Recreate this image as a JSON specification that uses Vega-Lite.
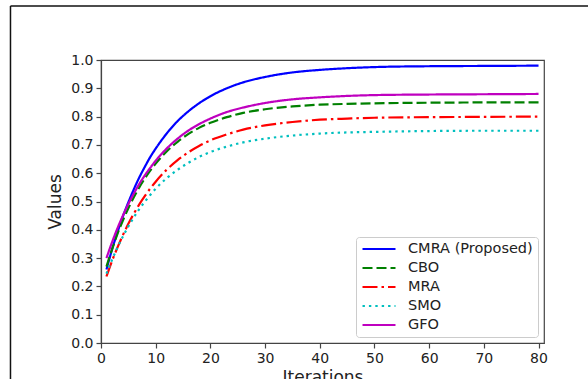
{
  "$schema": "https://vega.github.io/schema/vega-lite/v6.json",
  "width": 443,
  "height": 283,
  "autosize": {"type": "none"},
  "padding": {"left": 101, "top": 60, "right": 44, "bottom": 36},
  "background": "white",
  "config": {
    "font": "DejaVu Sans",
    "view": {"stroke": "#444", "strokeWidth": 1.2},
    "axis": {
      "grid": false,
      "domainColor": "#444",
      "domainWidth": 1.2,
      "tickColor": "#444",
      "tickSize": 5,
      "tickWidth": 1.2,
      "labelFontSize": 14,
      "labelColor": "#222",
      "labelPadding": 3,
      "labelOverlap": false,
      "titleFontSize": 17,
      "titleFontWeight": "normal",
      "titleColor": "#222"
    },
    "legend": {
      "title": null,
      "symbolType": "stroke",
      "symbolSize": 1089,
      "symbolStrokeWidth": 2.2,
      "clipHeight": 14,
      "labelFontSize": 14.5,
      "labelColor": "#222",
      "labelOffset": 11,
      "strokeColor": "#cccccc",
      "fillColor": "white",
      "cornerRadius": 3,
      "padding": 5,
      "rowPadding": 4
    }
  },
  "datasets": {
    "curves": [
      {"it": 1, "method": "CMRA (Proposed)", "v": 0.260}, {"it": 2, "method": "CMRA (Proposed)", "v": 0.329}, {"it": 3, "method": "CMRA (Proposed)", "v": 0.391}, {"it": 4, "method": "CMRA (Proposed)", "v": 0.447}, {"it": 5, "method": "CMRA (Proposed)", "v": 0.497},
      {"it": 6, "method": "CMRA (Proposed)", "v": 0.543}, {"it": 7, "method": "CMRA (Proposed)", "v": 0.585}, {"it": 8, "method": "CMRA (Proposed)", "v": 0.622}, {"it": 9, "method": "CMRA (Proposed)", "v": 0.657}, {"it": 10, "method": "CMRA (Proposed)", "v": 0.687},
      {"it": 12, "method": "CMRA (Proposed)", "v": 0.740}, {"it": 14, "method": "CMRA (Proposed)", "v": 0.784}, {"it": 16, "method": "CMRA (Proposed)", "v": 0.819}, {"it": 18, "method": "CMRA (Proposed)", "v": 0.848}, {"it": 20, "method": "CMRA (Proposed)", "v": 0.872},
      {"it": 23, "method": "CMRA (Proposed)", "v": 0.900}, {"it": 26, "method": "CMRA (Proposed)", "v": 0.921}, {"it": 30, "method": "CMRA (Proposed)", "v": 0.940}, {"it": 35, "method": "CMRA (Proposed)", "v": 0.956}, {"it": 40, "method": "CMRA (Proposed)", "v": 0.965},
      {"it": 45, "method": "CMRA (Proposed)", "v": 0.971}, {"it": 50, "method": "CMRA (Proposed)", "v": 0.975}, {"it": 60, "method": "CMRA (Proposed)", "v": 0.978}, {"it": 70, "method": "CMRA (Proposed)", "v": 0.979}, {"it": 80, "method": "CMRA (Proposed)", "v": 0.980},

      {"it": 1, "method": "CBO", "v": 0.270}, {"it": 2, "method": "CBO", "v": 0.330}, {"it": 3, "method": "CBO", "v": 0.385}, {"it": 4, "method": "CBO", "v": 0.433}, {"it": 5, "method": "CBO", "v": 0.476},
      {"it": 6, "method": "CBO", "v": 0.515}, {"it": 7, "method": "CBO", "v": 0.550}, {"it": 8, "method": "CBO", "v": 0.581}, {"it": 9, "method": "CBO", "v": 0.609}, {"it": 10, "method": "CBO", "v": 0.634},
      {"it": 12, "method": "CBO", "v": 0.677}, {"it": 14, "method": "CBO", "v": 0.711}, {"it": 16, "method": "CBO", "v": 0.739}, {"it": 18, "method": "CBO", "v": 0.761}, {"it": 20, "method": "CBO", "v": 0.778},
      {"it": 23, "method": "CBO", "v": 0.798}, {"it": 26, "method": "CBO", "v": 0.813}, {"it": 30, "method": "CBO", "v": 0.826}, {"it": 35, "method": "CBO", "v": 0.836}, {"it": 40, "method": "CBO", "v": 0.842},
      {"it": 45, "method": "CBO", "v": 0.845}, {"it": 50, "method": "CBO", "v": 0.847}, {"it": 60, "method": "CBO", "v": 0.849}, {"it": 70, "method": "CBO", "v": 0.850}, {"it": 80, "method": "CBO", "v": 0.850},

      {"it": 1, "method": "MRA", "v": 0.235}, {"it": 2, "method": "MRA", "v": 0.289}, {"it": 3, "method": "MRA", "v": 0.337}, {"it": 4, "method": "MRA", "v": 0.381}, {"it": 5, "method": "MRA", "v": 0.421},
      {"it": 6, "method": "MRA", "v": 0.457}, {"it": 7, "method": "MRA", "v": 0.490}, {"it": 8, "method": "MRA", "v": 0.519}, {"it": 9, "method": "MRA", "v": 0.546}, {"it": 10, "method": "MRA", "v": 0.570},
      {"it": 12, "method": "MRA", "v": 0.612}, {"it": 14, "method": "MRA", "v": 0.646}, {"it": 16, "method": "MRA", "v": 0.674}, {"it": 18, "method": "MRA", "v": 0.697}, {"it": 20, "method": "MRA", "v": 0.716},
      {"it": 23, "method": "MRA", "v": 0.737}, {"it": 26, "method": "MRA", "v": 0.754}, {"it": 30, "method": "MRA", "v": 0.769}, {"it": 35, "method": "MRA", "v": 0.781}, {"it": 40, "method": "MRA", "v": 0.789},
      {"it": 45, "method": "MRA", "v": 0.793}, {"it": 50, "method": "MRA", "v": 0.796}, {"it": 60, "method": "MRA", "v": 0.798}, {"it": 70, "method": "MRA", "v": 0.799}, {"it": 80, "method": "MRA", "v": 0.800},

      {"it": 1, "method": "SMO", "v": 0.245}, {"it": 2, "method": "SMO", "v": 0.293}, {"it": 3, "method": "SMO", "v": 0.337}, {"it": 4, "method": "SMO", "v": 0.376}, {"it": 5, "method": "SMO", "v": 0.412},
      {"it": 6, "method": "SMO", "v": 0.444}, {"it": 7, "method": "SMO", "v": 0.473}, {"it": 8, "method": "SMO", "v": 0.499}, {"it": 9, "method": "SMO", "v": 0.523}, {"it": 10, "method": "SMO", "v": 0.545},
      {"it": 12, "method": "SMO", "v": 0.582}, {"it": 14, "method": "SMO", "v": 0.612}, {"it": 16, "method": "SMO", "v": 0.637}, {"it": 18, "method": "SMO", "v": 0.658}, {"it": 20, "method": "SMO", "v": 0.675},
      {"it": 23, "method": "SMO", "v": 0.694}, {"it": 26, "method": "SMO", "v": 0.709}, {"it": 30, "method": "SMO", "v": 0.722}, {"it": 35, "method": "SMO", "v": 0.733}, {"it": 40, "method": "SMO", "v": 0.740},
      {"it": 45, "method": "SMO", "v": 0.744}, {"it": 50, "method": "SMO", "v": 0.746}, {"it": 60, "method": "SMO", "v": 0.749}, {"it": 70, "method": "SMO", "v": 0.750}, {"it": 80, "method": "SMO", "v": 0.750},

      {"it": 1, "method": "GFO", "v": 0.300}, {"it": 2, "method": "GFO", "v": 0.355}, {"it": 3, "method": "GFO", "v": 0.405}, {"it": 4, "method": "GFO", "v": 0.450}, {"it": 5, "method": "GFO", "v": 0.491},
      {"it": 6, "method": "GFO", "v": 0.528}, {"it": 7, "method": "GFO", "v": 0.562}, {"it": 8, "method": "GFO", "v": 0.592}, {"it": 9, "method": "GFO", "v": 0.619}, {"it": 10, "method": "GFO", "v": 0.644},
      {"it": 12, "method": "GFO", "v": 0.687}, {"it": 14, "method": "GFO", "v": 0.722}, {"it": 16, "method": "GFO", "v": 0.751}, {"it": 18, "method": "GFO", "v": 0.774}, {"it": 20, "method": "GFO", "v": 0.793},
      {"it": 23, "method": "GFO", "v": 0.816}, {"it": 26, "method": "GFO", "v": 0.832}, {"it": 30, "method": "GFO", "v": 0.848}, {"it": 35, "method": "GFO", "v": 0.861}, {"it": 40, "method": "GFO", "v": 0.868},
      {"it": 45, "method": "GFO", "v": 0.873}, {"it": 50, "method": "GFO", "v": 0.876}, {"it": 60, "method": "GFO", "v": 0.878}, {"it": 70, "method": "GFO", "v": 0.879}, {"it": 80, "method": "GFO", "v": 0.880}
    ]
  },
  "layer": [
    {
      "data": {"name": "curves"},
      "mark": {"type": "line", "interpolate": "monotone", "strokeWidth": 2.2},
      "encoding": {
        "x": {
          "field": "it",
          "type": "quantitative",
          "scale": {"domain": [0, 81], "nice": false},
          "axis": {"values": [0, 10, 20, 30, 40, 50, 60, 70, 80], "title": "Iterations", "labelFlush": false, "labelOverlap": false, "titlePadding": 4}
        },
        "y": {
          "field": "v",
          "type": "quantitative",
          "scale": {"domain": [0, 1], "nice": false},
          "axis": {"values": [0, 0.1, 0.2, 0.3, 0.4, 0.5, 0.6, 0.7, 0.8, 0.9, 1.0], "format": ".1f", "title": "Values", "labelFlush": false, "labelOverlap": false, "titlePadding": 6}
        },
        "color": {
          "field": "method",
          "type": "nominal",
          "scale": {
            "domain": ["CMRA (Proposed)", "CBO", "MRA", "SMO", "GFO"],
            "range": ["#0000ff", "#008000", "#ff0000", "#00bfbf", "#bf00bf"]
          },
          "legend": {"orient": "bottom-right", "offset": 6}
        },
        "strokeDash": {
          "field": "method",
          "type": "nominal",
          "scale": {
            "domain": ["CMRA (Proposed)", "CBO", "MRA", "SMO", "GFO"],
            "range": [[1, 0], [10, 4], [15, 4, 2.5, 4], [2.4, 4], [1, 0]]
          },
          "legend": {"orient": "bottom-right", "offset": 6}
        }
      }
    },
    {
      "data": {"values": [{}]},
      "mark": {"type": "rule", "color": "#111", "strokeWidth": 1.5},
      "encoding": {
        "x": {
          "datum": -16.55,
          "type": "quantitative",
          "axis": {"values": [0, 10, 20, 30, 40, 50, 60, 70, 80], "title": "Iterations", "labelFlush": false, "labelOverlap": false, "titlePadding": 4}
        },
        "y": {
          "datum": 1.191,
          "type": "quantitative",
          "axis": {"values": [0, 0.1, 0.2, 0.3, 0.4, 0.5, 0.6, 0.7, 0.8, 0.9, 1.0], "format": ".1f", "title": "Values", "labelFlush": false, "labelOverlap": false, "titlePadding": 6}
        },
        "y2": {"datum": -0.2}
      }
    },
    {
      "data": {"values": [{}]},
      "mark": {"type": "rule", "color": "#111", "strokeWidth": 1.5},
      "encoding": {
        "x": {
          "datum": -16.55,
          "type": "quantitative",
          "axis": {"values": [0, 10, 20, 30, 40, 50, 60, 70, 80], "title": "Iterations", "labelFlush": false, "labelOverlap": false, "titlePadding": 4}
        },
        "x2": {"datum": 90},
        "y": {
          "datum": 1.191,
          "type": "quantitative",
          "axis": {"values": [0, 0.1, 0.2, 0.3, 0.4, 0.5, 0.6, 0.7, 0.8, 0.9, 1.0], "format": ".1f", "title": "Values", "labelFlush": false, "labelOverlap": false, "titlePadding": 6}
        }
      }
    }
  ]
}
